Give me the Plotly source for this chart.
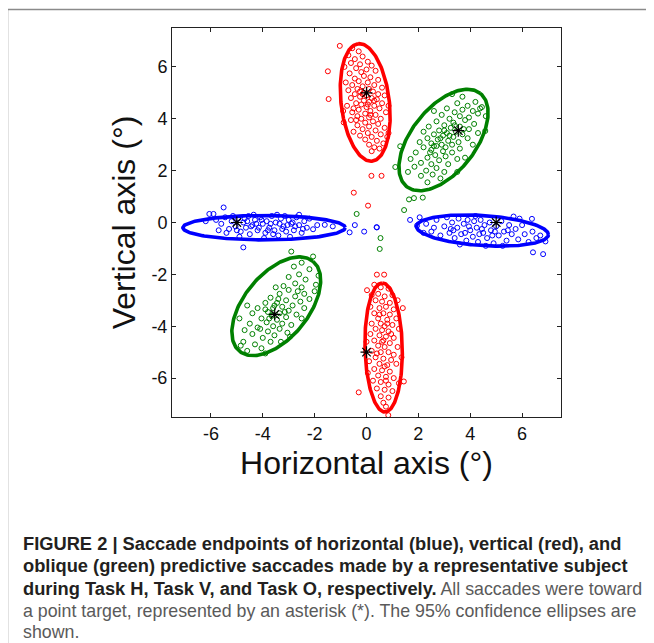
import numpy as np
import plotly.graph_objects as go

# ---------------- data ----------------
# Task H: horizontal saccade endpoints (blue)
horiz_pts = [
    (-6.06, 0.33), (-5.9, 0.33), (-5.51, 0.58), (-4.75, -0.96), (-2.06, -0.26), (-1.61, -0.09),
    (-1.3, -0.15), (-0.65, -0.38), (-5.8, 0.1), (-5.6, -0.05), (-5.45, 0.2), (-5.3, -0.25),
    (-5.2, 0.05), (-5.05, -0.15), (-4.95, 0.15), (-4.85, -0.35), (-4.75, 0.0), (-4.65, -0.2),
    (-4.55, 0.25), (-4.5, -0.45), (-4.4, -0.1), (-4.3, 0.1), (-4.2, -0.3), (-4.1, 0.2),
    (-4.0, -0.05), (-3.9, -0.4), (-3.85, 0.05), (-3.75, -0.2), (-3.65, 0.25), (-3.55, -0.3),
    (-3.5, 0.0), (-3.4, -0.5), (-3.3, 0.15), (-3.2, -0.15), (-3.1, -0.35), (-3.0, 0.1),
    (-2.9, -0.05), (-2.8, -0.3), (-2.7, 0.2), (-2.6, -0.1), (-2.5, -0.4), (-2.4, 0.05),
    (-2.3, -0.2), (-2.2, 0.15), (-5.4, -0.4), (-4.9, -0.55), (-4.35, 0.3), (-3.95, -0.6),
    (-3.45, 0.3), (-2.95, -0.55), (-2.6, 0.3), (-4.6, 0.05), (-4.15, -0.2), (-3.7, -0.05),
    (-3.25, -0.25), (-2.85, 0.0), (-5.7, -0.3), (-6.2, 0.05), (-4.45, -0.15), (-3.6, -0.45),
    (-3.15, 0.25), (-4.05, 0.1), (-2.45, -0.25), (-1.9, -0.1), (-5.15, 0.25), (-4.25, -0.05),
    (-3.8, -0.3), (-3.35, -0.05), (-2.75, -0.15), (-4.7, 0.15), (-5.0, -0.3), (-3.05, -0.1),
    (-0.45, -0.1), (0.39, -0.18), (-0.09, -0.35), (0.4, -0.19),
    (1.68, 0.1), (1.95, -0.12), (6.38, 0.14), (6.42, -1.15), (6.81, -1.22), (5.67, 0.23),
    (6.9, -0.73), (2.3, -0.05), (2.5, -0.35), (2.7, 0.1), (2.85, -0.5), (3.0, -0.15),
    (3.1, 0.2), (3.2, -0.4), (3.3, 0.0), (3.4, -0.6), (3.5, -0.2), (3.55, 0.15),
    (3.65, -0.45), (3.75, -0.05), (3.85, -0.7), (3.9, 0.1), (4.0, -0.3), (4.1, -0.55),
    (4.15, 0.05), (4.25, -0.2), (4.3, -0.75), (4.4, 0.1), (4.5, -0.4), (4.55, -0.1),
    (4.65, -0.6), (4.75, 0.0), (4.8, -0.3), (4.9, -0.8), (5.0, -0.15), (5.1, -0.5),
    (5.2, 0.05), (5.3, -0.35), (5.4, -0.7), (5.5, -0.1), (5.6, -0.45), (5.75, -0.25),
    (5.85, -0.65), (6.0, -0.1), (6.1, -0.45), (6.25, -0.75), (6.4, -0.35), (6.55, -0.6),
    (2.6, -0.2), (3.6, -0.85), (4.2, 0.25), (4.6, -0.9), (5.25, -0.9), (5.9, 0.15),
    (2.2, -0.4), (3.35, -0.3), (4.85, -0.5), (5.45, -0.3), (3.95, -0.15), (4.45, -0.25),
    (6.7, -0.5), (2.05, 0.2), (3.8, -0.4), (4.35, -0.45), (4.95, -0.35), (3.25, -0.25),
]

# Task V: vertical saccade endpoints (red)
vert_pts = [
    (-1.03, 6.81), (-0.55, 6.72), (-0.3, 6.6), (-0.7, 6.45), (-0.15, 6.4), (-0.45, 6.3),
    (0.05, 6.2), (-0.6, 6.15), (-0.25, 6.1), (0.2, 6.05), (-0.85, 6.0), (-0.4, 5.95),
    (0.0, 5.9), (-0.2, 5.8), (0.35, 5.85), (-0.65, 5.75), (-1.49, 5.83), (-0.1, 5.65),
    (0.15, 5.6), (-0.45, 5.55), (0.45, 5.5), (-0.3, 5.45), (-0.8, 5.4), (0.05, 5.4),
    (0.3, 5.3), (-0.55, 5.3), (-0.15, 5.25), (0.6, 5.2), (-0.35, 5.15), (0.1, 5.15),
    (-0.7, 5.1), (0.25, 5.05), (-0.1, 5.0), (0.45, 4.95), (-0.45, 4.95), (0.0, 4.9),
    (0.7, 4.9), (-0.25, 4.85), (0.2, 4.8), (-0.6, 4.8), (0.4, 4.75), (-0.1, 4.7),
    (0.1, 4.65), (-0.4, 4.6), (0.6, 4.6), (-0.2, 4.55), (0.3, 4.5), (-0.75, 4.5),
    (0.0, 4.45), (0.5, 4.4), (-0.3, 4.35), (0.15, 4.3), (-0.55, 4.25), (0.75, 4.25),
    (-0.05, 4.2), (0.35, 4.15), (-0.35, 4.1), (0.1, 4.05), (0.55, 4.0), (-0.2, 4.0),
    (-1.46, 4.76), (-0.9, 4.3), (0.85, 4.5), (-0.6, 3.95), (0.25, 3.9), (-0.05, 3.85),
    (0.45, 3.8), (-0.35, 3.75), (0.1, 3.7), (0.7, 3.65), (-0.15, 3.6), (0.35, 3.55),
    (-0.5, 3.5), (0.05, 3.45), (0.55, 3.4), (-0.25, 3.35), (0.2, 3.3), (0.8, 3.3),
    (-0.05, 3.2), (0.4, 3.15), (0.65, 3.05), (0.1, 3.0), (0.3, 2.9), (0.5, 2.85),
    (0.2, 2.75), (-0.88, 3.86), (0.85, 3.45), (-0.15, 4.95), (0.3, 4.7), (-0.5, 4.4),
    (0.15, 4.15), (-0.25, 5.05), (0.05, 4.55), (-0.4, 3.95),
    (0.19, 1.8), (0.58, 1.8), (-0.49, 1.15), (0.06, 0.65),
    (0.4, -2.01), (0.68, -2.01), (0.02, -2.61), (0.3, -2.4), (0.55, -2.5), (0.85, -2.55),
    (0.2, -2.8), (0.45, -2.75), (0.7, -2.85), (1.0, -2.8), (0.35, -3.0), (0.6, -3.05),
    (0.9, -3.1), (1.2, -3.0), (0.15, -3.25), (0.5, -3.3), (0.75, -3.25), (1.05, -3.35),
    (0.3, -3.5), (0.65, -3.5), (0.9, -3.55), (0.45, -3.7), (0.8, -3.75), (1.15, -3.7),
    (0.2, -3.9), (0.55, -3.9), (0.7, -4.0), (1.0, -3.95), (0.35, -4.1), (0.6, -4.15),
    (0.85, -4.2), (1.25, -4.1), (0.15, -4.3), (0.5, -4.35), (0.75, -4.4), (1.05, -4.45),
    (0.3, -4.55), (0.65, -4.55), (0.9, -4.65), (0.45, -4.75), (0.7, -4.8), (1.2, -4.8),
    (0.2, -4.95), (0.55, -5.0), (0.85, -5.0), (1.05, -5.1), (0.35, -5.2), (0.65, -5.25),
    (0.95, -5.3), (0.1, -5.35), (0.5, -5.45), (0.8, -5.5), (1.15, -5.45), (0.3, -5.65),
    (0.6, -5.7), (0.9, -5.75), (0.45, -5.9), (0.75, -5.95), (1.05, -6.0), (0.25, -6.1),
    (0.55, -6.15), (0.85, -6.25), (1.25, -6.2), (0.4, -6.4), (0.7, -6.45), (1.0, -6.5),
    (0.55, -6.7), (0.85, -6.75), (0.65, -6.95), (0.75, -7.1), (-0.3, -6.55), (1.44, -6.13),
    (0.84, -7.43), (1.35, -5.2), (0.0, -4.6), (1.4, -3.3), (0.05, -5.8), (0.6, -4.6),
    (0.8, -3.9), (0.4, -5.05), (0.7, -5.55), (0.95, -4.3), (0.5, -3.55), (0.75, -6.1),
]

# Task O: oblique saccade endpoints (green)
obl_pts = [
    (3.3, 4.95), (3.7, 4.85), (4.2, 4.65), (3.5, 4.6), (3.9, 4.5), (4.45, 4.45),
    (3.1, 4.4), (3.7, 4.35), (4.1, 4.3), (3.4, 4.25), (4.3, 4.2), (2.9, 4.15),
    (3.6, 4.1), (3.95, 4.05), (4.6, 4.1), (3.2, 4.0), (2.6, 4.3), (3.8, 3.95),
    (2.7, 3.9), (3.35, 3.85), (4.15, 3.8), (3.0, 3.75), (2.4, 3.7), (3.6, 3.7),
    (3.25, 3.65), (3.95, 3.6), (2.8, 3.55), (3.45, 3.5), (2.2, 3.5), (3.1, 3.45),
    (4.3, 3.45), (2.6, 3.4), (3.7, 3.4), (2.95, 3.35), (3.35, 3.3), (2.35, 3.25),
    (3.9, 3.25), (2.75, 3.2), (3.15, 3.15), (3.55, 3.1), (2.05, 3.1), (2.5, 3.05),
    (2.9, 3.0), (3.3, 3.0), (4.1, 3.0), (2.7, 2.95), (3.6, 2.85), (2.2, 2.9),
    (2.5, 2.8), (2.95, 2.75), (3.3, 2.7), (1.9, 2.7), (2.65, 2.6), (3.05, 2.55),
    (2.35, 2.5), (3.5, 2.45), (1.7, 2.45), (2.8, 2.4), (2.1, 2.3), (2.5, 2.25),
    (3.15, 2.25), (1.85, 2.15), (2.7, 2.1), (2.3, 2.0), (3.0, 1.95), (1.6, 1.95),
    (2.55, 1.85), (2.1, 1.8), (2.85, 1.7), (2.35, 1.55), (1.3, 2.94), (1.11, 2.14),
    (3.8, 2.5), (3.5, 1.95), (4.58, 3.53), (4.38, 4.4), (3.0, 3.55), (3.4, 3.75),
    (2.85, 3.25), (3.2, 3.35), (2.6, 2.95), (3.75, 3.6), (3.05, 2.9), (2.45, 2.7),
    (1.45, 0.48), (1.64, 0.89), (1.83, 0.94), (2.17, 0.96),
    (-0.38, 0.33), (0.54, -0.6), (0.51, -1.02),
    (-2.9, -1.12), (-2.06, -1.31), (-2.5, -1.55), (-2.8, -1.7), (-2.2, -1.8), (-1.85, -2.05),
    (-2.6, -2.0), (-3.0, -2.1), (-2.35, -2.2), (-1.95, -2.4), (-2.75, -2.35), (-3.2, -2.45),
    (-2.5, -2.5), (-2.0, -2.65), (-3.5, -2.5), (-3.0, -2.6), (-2.4, -2.75), (-3.35, -2.75),
    (-2.75, -2.85), (-3.7, -2.9), (-2.2, -2.95), (-3.1, -3.0), (-2.55, -3.05), (-3.45, -3.1),
    (-3.9, -3.1), (-2.85, -3.2), (-3.25, -3.25), (-4.2, -3.3), (-3.6, -3.3), (-2.4, -3.3),
    (-3.0, -3.4), (-3.8, -3.45), (-3.35, -3.5), (-4.4, -3.5), (-2.7, -3.55), (-3.65, -3.6),
    (-3.1, -3.65), (-4.05, -3.7), (-3.45, -3.75), (-2.5, -3.7), (-3.85, -3.85), (-3.25, -3.9),
    (-4.5, -3.9), (-2.9, -3.95), (-3.6, -4.0), (-4.2, -4.05), (-3.35, -4.1), (-4.7, -4.15),
    (-3.8, -4.2), (-3.05, -4.25), (-4.4, -4.3), (-3.55, -4.35), (-4.0, -4.45), (-4.75, -4.6),
    (-3.7, -4.6), (-4.3, -4.7), (-3.3, -4.6), (-4.85, -4.75), (-4.05, -4.85), (-4.6, -4.95),
    (-3.9, -5.05), (-2.95, -4.4), (-4.6, -3.2), (-4.9, -3.7), (-3.55, -3.2), (-3.75, -3.7),
    (-3.15, -3.45), (-3.9, -3.35), (-3.4, -2.95), (-4.1, -4.1), (-2.65, -2.65), (-3.6, -3.55),
]

# Targets (asterisks)
target_x = [0, 0, -5, 5, 3.54, -3.54]
target_y = [5, -5, 0, 0, 3.54, -3.54]

# 95% confidence ellipses: colour, centre, semi-axes, orientation (deg)
ell_color = ["#0000FF", "#0000FF", "#FF0000", "#FF0000", "#008000", "#008000"]
ell_cx = [-3.95, 4.47, -0.05, 0.66, 2.97, -3.48]
ell_cy = [-0.20, -0.31, 4.63, -4.82, 3.18, -3.23]
ell_a = [3.13, 2.55, 2.28, 2.49, 2.29, 2.24]
ell_b = [0.47, 0.58, 0.93, 0.72, 1.24, 1.24]
ell_ang = [0.0, -3.8, 96.8, 91.3, 51.8, 50.7]

x_ticks = [-6, -4, -2, 0, 2, 4, 6]
x_tick_labels = ["-6", "-4", "-2", "0", "2", "4", "6"]
y_ticks = [-6, -4, -2, 0, 2, 4, 6]
y_tick_labels = ["-6", "-4", "-2", "0", "2", "4", "6"]

REG = "<span style='color:#5a5a5a;font-size:17.8px'>{}</span>"
caption_lines = [
    "<b>FIGURE 2 | Saccade endpoints of horizontal (blue), vertical (red), and</b>",
    "<b>oblique (green) predictive saccades made by a representative subject</b>",
    "<b>during Task H, Task V, and Task O, respectively.</b>" + REG.format(" All saccades were toward"),
    REG.format("a point target, represented by an asterisk (*). The 95% confidence ellipses are"),
    REG.format("shown."),
]

COLORS = {"h": "#0000FF", "v": "#FF0000", "o": "#008000"}
FONT = "Liberation Sans, Arial, Helvetica, sans-serif"

# ---------------- figure ----------------
# the page body has an 8px margin; pixel positions below are those of the target image
OFF = 8
W, H = 654 - OFF, 643 - OFF
L, R, T, B = 172, 561, 28, 417   # plot area in target-image pixels

fig = go.Figure()

for pts, key in [(horiz_pts, "h"), (vert_pts, "v"), (obl_pts, "o")]:
    xs, ys = zip(*pts)
    fig.add_trace(go.Scatter(
        x=list(xs), y=list(ys), mode="markers",
        marker=dict(symbol="circle-open", size=5, color=COLORS[key],
                    line=dict(width=1, color=COLORS[key])),
        showlegend=False, hoverinfo="skip"))

t = np.linspace(0, 2 * np.pi, 200)
for c, cx, cy, a, b, ang in zip(ell_color, ell_cx, ell_cy, ell_a, ell_b, ell_ang):
    th = np.deg2rad(ang)
    ex = cx + a * np.cos(t) * np.cos(th) - b * np.sin(t) * np.sin(th)
    ey = cy + a * np.cos(t) * np.sin(th) + b * np.sin(t) * np.cos(th)
    fig.add_trace(go.Scatter(x=ex, y=ey, mode="lines",
                             line=dict(color=c, width=3.6),
                             showlegend=False, hoverinfo="skip"))

fig.add_trace(go.Scatter(
    x=target_x, y=target_y, mode="markers",
    marker=dict(symbol="asterisk-open", size=10, color="black",
                line=dict(width=1.2, color="black")),
    showlegend=False, hoverinfo="skip"))

axis_common = dict(
    range=[-7.5, 7.5], showgrid=False, zeroline=False,
    showline=True, linecolor="#222222", linewidth=1, mirror="ticks",
    ticks="inside", ticklen=4, tickwidth=1, tickcolor="#222222",
    tickfont=dict(family=FONT, size=18, color="#111111"),
)
fig.update_xaxes(**axis_common, tickvals=x_ticks, ticktext=x_tick_labels,
                 title=dict(text="Horizontal axis (°)", standoff=9,
                            font=dict(family=FONT, size=32, color="#111111")))
fig.update_yaxes(**axis_common, tickvals=y_ticks, ticktext=y_tick_labels,
                 title=dict(text="Vertical axis (°)", standoff=6,
                            font=dict(family=FONT, size=32, color="#111111")))

def px2paper_x(px):
    return (px - L) / (R - L)

def px2paper_y(py):
    return (B - py) / (B - T)

# outer frame of the figure panel (left and top edges visible)
fig.add_shape(type="rect", xref="paper", yref="paper",
              x0=px2paper_x(7.5), y0=px2paper_y(720), x1=px2paper_x(720), y1=px2paper_y(9.5),
              line=dict(color="#8a8a8a", width=1.5), fillcolor="rgba(0,0,0,0)", layer="below")

caption_y = [543, 565.5, 588, 610.5, 632]
for line, cy in zip(caption_lines, caption_y):
    fig.add_annotation(text=line, xref="paper", yref="paper",
                       x=px2paper_x(21), y=px2paper_y(cy), xanchor="left", yanchor="middle",
                       align="left", showarrow=False,
                       font=dict(family=FONT, size=18.3, color="#231f20"))

fig.update_layout(
    width=W, height=H, autosize=False,
    margin=dict(l=L - OFF, r=W - (R - OFF), t=T - OFF, b=H - (B - OFF), pad=0),
    paper_bgcolor="white", plot_bgcolor="white",
    showlegend=False,
)

fig.write_html("out.html")
